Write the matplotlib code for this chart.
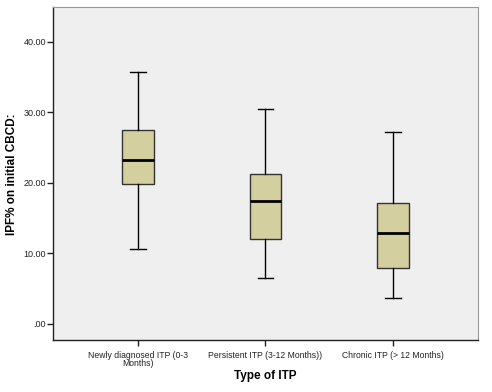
import matplotlib
matplotlib.use("Agg")
import matplotlib.pyplot as plt

plt.rcParams['font.family'] = ['Liberation Sans', 'DejaVu Sans']

# Box-plot summary values
categories = ["Newly diagnosed ITP (0-3\nMonths)", "Persistent ITP (3-12 Months))", "Chronic ITP (> 12 Months)"]
whisker_low = [10.6, 6.5, 3.6]
q1 = [19.8, 12.0, 7.9]
median = [23.2, 17.45, 12.8]
q3 = [27.45, 21.2, 17.1]
whisker_high = [35.7, 30.4, 27.2]
yticks = [0, 10, 20, 30, 40]
ytick_labels = [".00", "10.00", "20.00", "30.00", "40.00"]

stats = []
for i in range(len(categories)):
    stats.append({"whislo": whisker_low[i], "q1": q1[i], "med": median[i],
                  "q3": q3[i], "whishi": whisker_high[i], "fliers": []})

fig = plt.figure(figsize=(4.92, 3.92), dpi=100)
ax = fig.add_axes([0.1077, 0.1319, 0.8638, 0.849])
ax.set_facecolor("#efefef")

ax.bxp(stats, positions=[1, 2, 3], widths=0.245, patch_artist=True,
       showfliers=False,
       boxprops=dict(facecolor="#d4cf9f", edgecolor="#333333", linewidth=1.0),
       medianprops=dict(color="black", linewidth=2.0),
       whiskerprops=dict(color="black", linewidth=1.0),
       capprops=dict(color="black", linewidth=1.0),
       capwidths=0.125)

ax.set_xlim(0.333, 3.667)
ax.set_ylim(-2.36, 44.85)
ax.set_yticks(yticks)
ax.set_yticklabels(ytick_labels, fontsize=6.5, color="#222222")
ax.set_xticks([1, 2, 3])
ax.set_xticklabels(categories, fontsize=6.2, linespacing=0.85, color="#222222")
ax.tick_params(axis="both", length=4, width=1, color="#222222", pad=1)
ax.tick_params(axis="x", pad=4)

for side in ["top", "right"]:
    ax.spines[side].set_color("#999999")
    ax.spines[side].set_linewidth(0.8)
for side in ["left", "bottom"]:
    ax.spines[side].set_color("#222222")
    ax.spines[side].set_linewidth(1.0)

ax.set_ylabel("IPF% on initial CBCD:", fontsize=8.5, fontweight="bold")
ax.set_xlabel("Type of ITP", fontsize=8.5, fontweight="bold")
ax.yaxis.set_label_coords(-0.0965, 0.5)
ax.xaxis.set_label_coords(0.5, -0.107)
ax.xaxis.label.set_va("center")
ax.yaxis.label.set_va("center")

fig.savefig("out.png", dpi=100)
